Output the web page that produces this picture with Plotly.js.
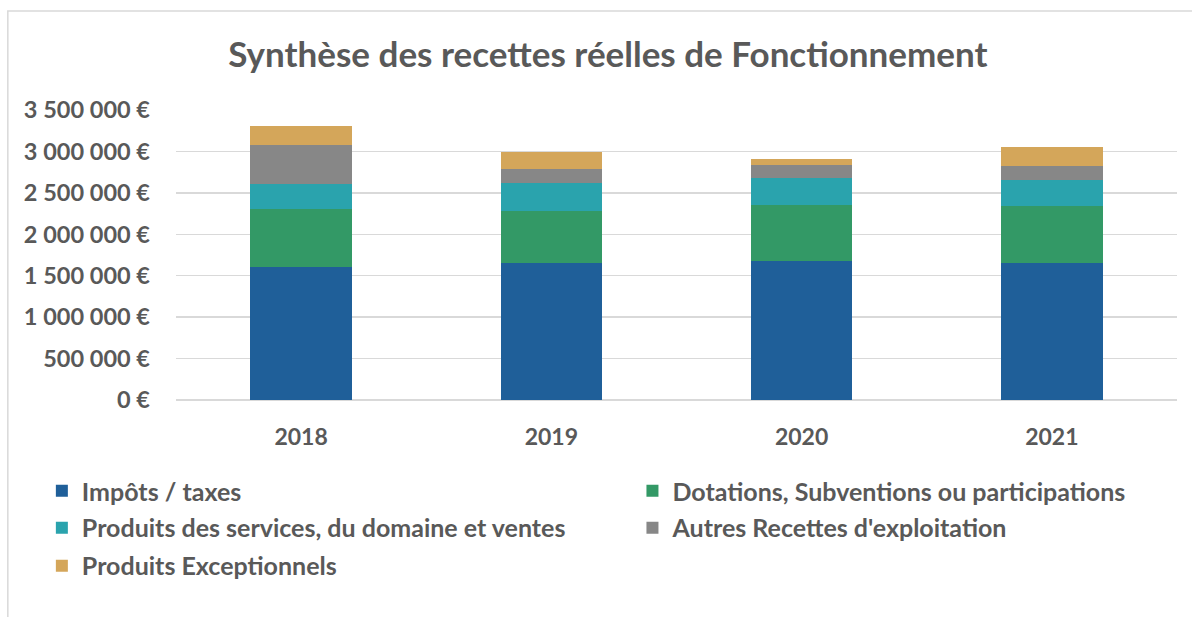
<!DOCTYPE html>
<html>
<head>
<meta charset="utf-8">
<script src="https://cdn.plot.ly/plotly-3.0.1.min.js"></script>
<style>html,body{margin:0;padding:0;background:#fff;}#chart{width:1192px;height:617px;}</style>
</head>
<body>
<div id="chart"></div>
<script>
const years = ["2018", "2019", "2020", "2021"];
const impots = [1600000, 1652000, 1676000, 1655000];
const dotations = [704000, 634000, 679000, 684000];
const produitsServices = [305000, 338000, 325000, 321000];
const autresRecettes = [470000, 165000, 157000, 169000];
const produitsExcep = [233000, 208000, 69000, 221000];
const seriesNames = ["Impôts / taxes", "Dotations, Subventions ou participations", "Produits des services, du domaine et ventes", "Autres Recettes d'exploitation", "Produits Exceptionnels"];
const seriesColors = ["#1f5f99", "#339966", "#2aa3ad", "#878787", "#d4a65a"];
const yTicks = [0, 500000, 1000000, 1500000, 2000000, 2500000, 3000000, 3500000];
const yTickText = ["0 €", "500 000 €", "1 000 000 €", "1 500 000 €", "2 000 000 €", "2 500 000 €", "3 000 000 €", "3 500 000 €"];

const font = "Lato, 'Open Sans', sans-serif";
const legendIds = ["legend", "legend2", "legend3", "legend4", "legend5"];
const seriesValues = [impots, dotations, produitsServices, autresRecettes, produitsExcep];
const traces = seriesValues.map((vals, i) => ({
  type: "bar",
  x: years,
  y: vals,
  name: seriesNames[i],
  legend: legendIds[i],
  marker: {color: seriesColors[i], line: {width: 0}}
}));

// legend placement (paper coords): two columns, three rows
const legX = [-0.134, 0.456, -0.134, 0.456, -0.134];
const legY = [-0.314, -0.314, -0.441, -0.441, -0.572];
function legendBox(i) {
  return {orientation: "v", x: legX[i], xanchor: "left", y: legY[i], yanchor: "middle",
    bgcolor: "rgba(0,0,0,0)", borderwidth: 0,
    font: {family: font, size: 25, color: "#595959", weight: "bold"}, itemwidth: 30};
}

const layout = {
  width: 1192, height: 617,
  barmode: "stack",
  bargap: 0.594,
  paper_bgcolor: "#ffffff",
  plot_bgcolor: "#ffffff",
  margin: {l: 176, r: 15, t: 110, b: 217, autoexpand: false},
  font: {family: font, color: "#595959"},
  title: {text: "<b>Synthèse des recettes réelles de Fonctionnement</b>", font: {family: font, size: 35, color: "#595959"}, x: 0.51, xanchor: "center", y: 0.911, yanchor: "middle"},
  xaxis: {type: "category", showgrid: false, showline: false, ticks: "", tickfont: {family: font, size: 23, color: "#595959", weight: "bold"}, ticklabelstandoff: 21},
  yaxis: {range: [0, 3500000], tickvals: yTicks, ticktext: yTickText, showgrid: true, gridcolor: "#d9d9d9", gridwidth: 1.5, zeroline: true, zerolinecolor: "#d9d9d9", zerolinewidth: 1.5, showline: false, ticks: "", tickfont: {family: font, size: 23.5, color: "#595959", weight: "bold"}, ticklabelstandoff: 25},
  showlegend: true,
  legend: legendBox(0),
  legend2: legendBox(1),
  legend3: legendBox(2),
  legend4: legendBox(3),
  legend5: legendBox(4),
  shapes: [{type: "rect", xref: "paper", yref: "paper", x0: -0.168, x1: 1.2, y0: -1.0, y1: 1.341, line: {color: "#d9d9d9", width: 1.5}, fillcolor: "rgba(0,0,0,0)", layer: "below"}]
};

Plotly.newPlot("chart", traces, layout, {displayModeBar: false, staticPlot: true});
</script>
</body>
</html>
